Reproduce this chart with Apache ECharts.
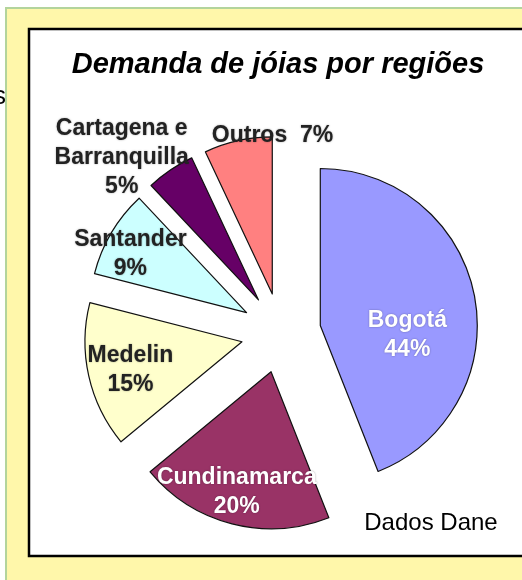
<!DOCTYPE html>
<html>
<head>
<meta charset="utf-8">
<script src="https://cdn.jsdelivr.net/npm/echarts@6/dist/echarts.min.js"></script>
<style>
  html, body { margin: 0; padding: 0; background: #fff; }
  #chart { width: 522px; height: 580px; }
</style>
</head>
<body>
<div id="chart"></div>
<script>
// regions and share of jewellery demand (%)
const regions = ['Bogotá', 'Cundinamarca', 'Medelin', 'Santander', 'Cartagena e\nBarranquilla', 'Outros'];
const shares = [44, 20, 15, 9, 5, 7];
const colors = ['#9999ff', '#993366', '#ffffcc', '#ccffff', '#660066', '#ff8080'];
const labelColors = ['#ffffff', '#ffffff', '#222222', '#222222', '#222222', '#222222'];
// nudges of each label from its default inner spot
const labelShift = [[7, 25], [-14, 41], [-32, 11], [-46, -17], [-91, -75], [18, -79]];

const chart = echarts.init(document.getElementById('chart'));

const data = regions.map((name, i) => ({
    name: name,
    value: shares[i],
    selected: true,
    itemStyle: { color: colors[i] },
    label: { color: labelColors[i] }
}));

chart.setOption({
    animation: false,
    graphic: [
        // yellow frame with a thin green edge
        { type: 'rect', shape: { x: 6, y: 8, width: 530, height: 590 },
          style: { fill: '#fff7aa', stroke: '#b3d49c', lineWidth: 2 }, z: 0 },
        // white panel with black border
        { type: 'rect', shape: { x: 29, y: 29, width: 510, height: 527 },
          style: { fill: '#ffffff', stroke: '#000000', lineWidth: 2.5 }, z: 1 },
        { type: 'text', x: -7, y: 84, z: 2,
          style: { text: 's', font: '26px "Liberation Sans", Arial', fill: '#000' } },
        { type: 'text', x: 278, y: 50, z: 2,
          style: { text: 'Demanda de jóias por regiões', textAlign: 'center',
                   font: 'italic bold 29px "Liberation Sans", Arial', fill: '#000' } },
        { type: 'text', x: 431, y: 511, z: 2,
          style: { text: 'Dados Dane', textAlign: 'center',
                   font: '24px "Liberation Sans", Arial', fill: '#000' } }
    ],
    series: [{
        type: 'pie',
        z: 3,
        center: [281, 333],
        radius: [0, 157],
        startAngle: 90,
        selectedMode: 'multiple',
        selectedOffset: 40,
        silent: true,
        itemStyle: { borderColor: '#111', borderWidth: 1.2 },
        label: {
            position: 'inner',
            formatter: p => p.name + (p.dataIndex === 5 ? '  ' : '\n') + p.value + '%',
            fontFamily: '"Liberation Sans", Arial, sans-serif',
            fontWeight: 'bold',
            fontSize: 23,
            lineHeight: 29,
            textShadowColor: 'rgba(0,0,0,0.35)',
            textShadowBlur: 2
        },
        labelLine: { show: false },
        labelLayout: p => ({ dx: labelShift[p.dataIndex][0], dy: labelShift[p.dataIndex][1] }),
        data: data
    }]
});
</script>
</body>
</html>
